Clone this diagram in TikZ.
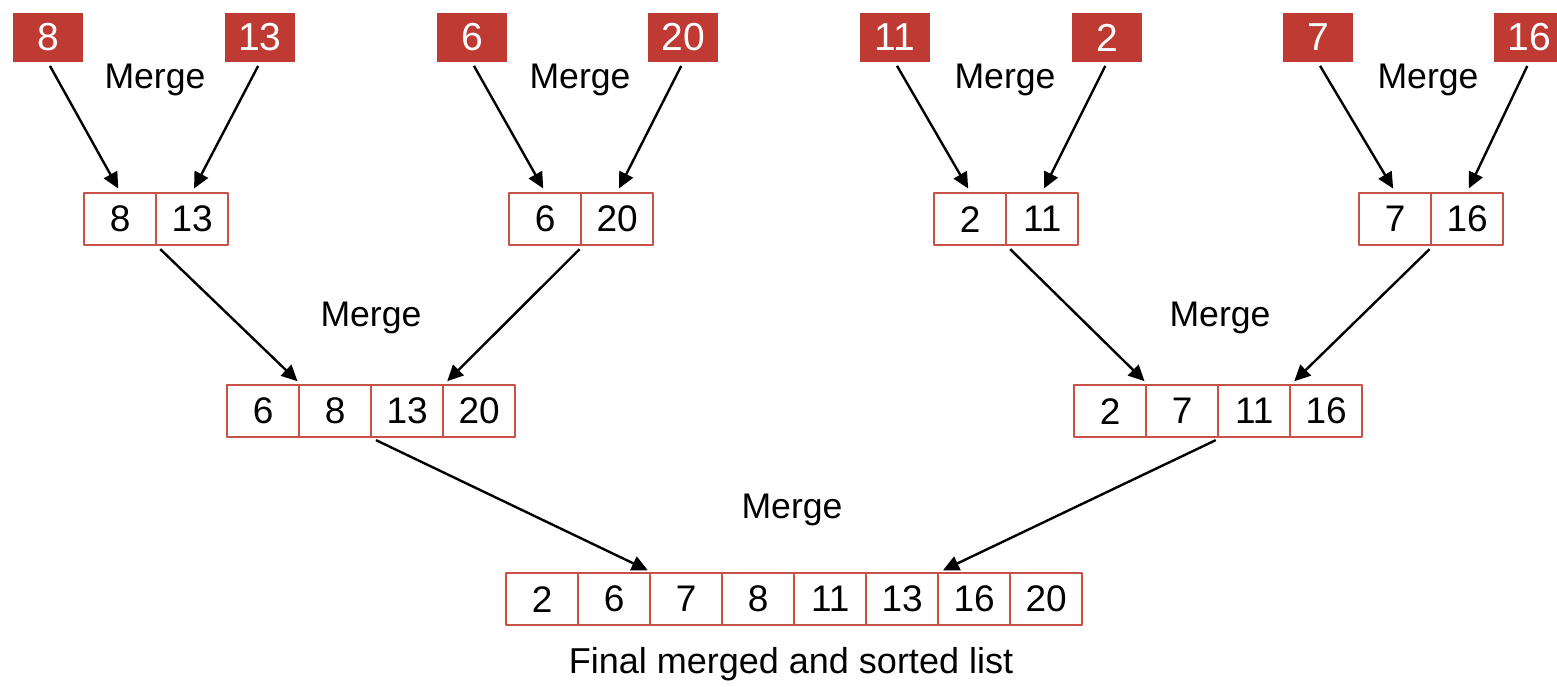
\documentclass[tikz,border=0pt]{standalone}
\usepackage{fontspec}
\setmainfont{Liberation Sans}
\usetikzlibrary{arrows.meta}
\definecolor{boxred}{RGB}{190,58,50}
\definecolor{cellred}{RGB}{200,82,72}
\begin{document}
\begin{tikzpicture}[x=0.5pt, y=-0.5pt, line join=round, >={Triangle[length=8pt,width=7.5pt]},
	redbox/.style={fill=boxred, text=white, minimum width=35pt, minimum height=24.5pt, inner sep=0pt, font=\fontsize{19.5}{22}\selectfont},
	cell/.style={draw=cellred, line width=1.2pt, minimum width=36pt, minimum height=26pt, inner sep=0pt, anchor=north west, font=\fontsize{18.5}{21}\selectfont},
	lbl/.style={font=\fontsize{17.8}{20}\selectfont},
	arr/.style={->, line width=1.2pt, shorten <=2pt, shorten >=2pt}]
			\clip (0,0) rectangle (1557,686);
			\foreach \n/\v/\x in {t1/8/48, t2/13/260, t3/6/472, t4/20/683, t5/11/895, t6/2/1107, t7/7/1318, t8/16/1529}
			\node[redbox] (\n) at (\x,37.5) {\v};
			\foreach \v [count=\i] in {8,13} \node[cell] (a-\i) at ({83+72*(\i-1)},192) {\v};
			\foreach \v [count=\i] in {6,20} \node[cell] (c-\i) at ({508+72*(\i-1)},192) {\v};
			\foreach \v [count=\i] in {2,11} \node[cell] (d-\i) at ({933+72*(\i-1)},192) {\v};
			\foreach \v [count=\i] in {7,16} \node[cell] (f-\i) at ({1358+72*(\i-1)},192) {\v};
			\foreach \v [count=\i] in {6,8,13,20} \node[cell] (b-\i) at ({226+72*(\i-1)},384) {\v};
			\foreach \v [count=\i] in {2,7,11,16} \node[cell] (e-\i) at ({1073+72*(\i-1)},384) {\v};
			\foreach \v [count=\i] in {2,6,7,8,11,13,16,20} \node[cell] (g-\i) at ({505+72*(\i-1)},572) {\v};
			\foreach \n/\x/\y in {m1/155/80, m2/580/80, m3/1005/80, m4/1428/80, m5/371/318, m6/1220/318, m7/792/510}
			\node[lbl] (\n) at (\x,\y) {Merge};
			\node[lbl, font=\fontsize{18}{21}\selectfont] (fin) at (791,664) {Final merged and sorted list};
			\draw[arr] (t1.south)--(a-1.north);
			\draw[arr] (t2.south)--(a-2.north);
			\draw[arr] (t3.south)--(c-1.north);
			\draw[arr] (t4.south)--(c-2.north);
			\draw[arr] (t5.south)--(d-1.north);
			\draw[arr] (t6.south)--(d-2.north);
			\draw[arr] (t7.south)--(f-1.north);
			\draw[arr] (t8.south)--(f-2.north);
			\draw[arr] (a-1.south east)--(b-1.north east);
			\draw[arr] (c-1.south east)--(b-3.north east);
			\draw[arr] (d-1.south east)--(e-1.north east);
			\draw[arr] (f-1.south east)--(e-3.north east);
			\draw[arr] (b-2.south east)--(g-2.north east);
			\draw[arr] (e-2.south east)--(g-6.north east);
\end{tikzpicture}
\end{document}
